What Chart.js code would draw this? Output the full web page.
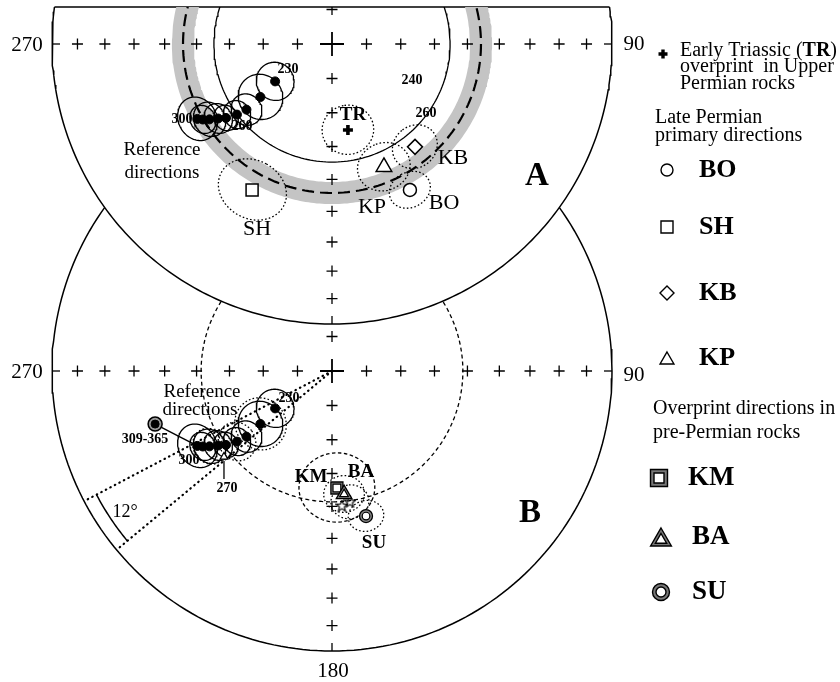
<!DOCTYPE html>
<html lang="en">
<head>
<meta charset="utf-8">
<title>Permian and Triassic paleomagnetic directions</title>
<script src="https://cdn.jsdelivr.net/npm/chart.js@4.4.1/dist/chart.umd.min.js"></script>
<style>
  html, body { margin: 0; padding: 0; background: #fff; }
  #box { position: relative; width: 840px; height: 682px; }
</style>
</head>
<body>
<div id="box"><canvas id="net" width="840" height="682"></canvas></div>
<script>
const RAD = Math.PI / 180;
const SERIF = '"Liberation Serif", "Times New Roman", serif';

// ---------- data (declination, inclination, alpha95 in degrees) ----------
// grid of the equal-area nets
const gridInc = [80, 70, 60, 50, 40, 30, 20, 10];
const gridDec = [0, 90, 180, 270];

// reference directions, 230 ... 300 Ma
const refLabels = ['230', '', '', '', '', '', '', '', '300'];
const refDec = [236.7, 233.5, 232.5, 233.4, 235.1, 236.8, 238.4, 239.7, 240.9];
const refInc = [70.2, 64.0, 58.4, 55.2, 51.9, 49.8, 47.4, 45.6, 44.2];
const refA95 = [5.5, 6.5, 4.5, 4.0, 3.6, 4.2, 4.8, 3.9, 6.0];
// additional confidence circles shown on net B
const refDotIdx = [1, 3, 6];
const refDotA95 = [7.5, 5.5, 5.0];
// 309-365 Ma and 270 Ma reference directions (net B)
const oldDec = [253.3];
const oldInc = [34.4];
const ref270Dec = [231.5];
const ref270Inc = [49.2];

// Early Triassic overprint in Upper Permian rocks
const trDec = [169.5];
const trInc = [64.5];
const trA95 = [7.3];

// Late Permian primary directions
const lpSites = ['BO', 'SH', 'KB', 'KP'];
const lpDec = [151.9, 208.7, 141.1, 157.1];
const lpInc = [40.6, 40.3, 51.0, 50.6];
const lpA95 = [5.6, 9.3, 6.4, 7.3];

// overprint directions in pre-Permian rocks
const opSites = ['KM', 'BA', 'SU'];
const opDec = [177.6, 174.4, 166.8];
const opInc = [55.6, 53.6, 45.8];
const opA95 = [10.5, 5.6, 4.8];
// mean overprint directions (stars)
const starDec = [175.8, 172.2];
const starInc = [50.0, 51.0];
const starA95 = [5.2];

// small circles of constant inclination
const bandIncA = 45.8;            // dashed centre line of the shaded band
const bandEdgeIncA = [42.3, 49.2]; // outer and inner edge of the band
const thinIncA = 55.3;
const ringIncB = 51.4;
// 12 degree declination sector
const wedgeDec = [242.3, 230.3];
const wedgeArcInc = 5.6;

// ---------- net frames (canvas units) ----------
const NET_A = { cx: 332, cy: 44, R: 280, top: 7 };
const NET_B = { cx: 332, cy: 371, R: 280 };

// equal-area (Schmidt) projection, north up
function radiusOf(net, inc) { return net.R * Math.SQRT2 * Math.sin((90 - Math.abs(inc)) * RAD / 2); }
function project(net, dec, inc) {
  const r = radiusOf(net, inc);
  return { x: net.cx + r * Math.sin(dec * RAD), y: net.cy - r * Math.cos(dec * RAD) };
}
function smallCircle(net, inc, d0 = 0, d1 = 360, step = 1.5) {
  const n = Math.max(2, Math.round(Math.abs(d1 - d0) / step));
  const out = [];
  for (let k = 0; k <= n; k++) out.push(project(net, d0 + (d1 - d0) * k / n, inc));
  return out;
}
// declination where a small circle meets the upper cut of net A
function cutDec(net, inc) { return Math.acos((net.cy - net.top) / radiusOf(net, inc)) / RAD; }
// shaded band between two small circles, below the cut line
function bandPolygon(net, incOuter, incInner) {
  const dO = cutDec(net, incOuter), dI = cutDec(net, incInner);
  return smallCircle(net, incOuter, 360 - dO, dO, 1).concat(smallCircle(net, incInner, dI, 360 - dI, 1));
}
// cone of confidence around a direction
function cone(net, dec, inc, a95, n = 90) {
  const d = dec * RAD, i = inc * RAD, a = a95 * RAD;
  const v = [Math.cos(i) * Math.cos(d), Math.cos(i) * Math.sin(d), Math.sin(i)];
  const u1 = [-Math.sin(i) * Math.cos(d), -Math.sin(i) * Math.sin(d), Math.cos(i)];
  const u2 = [-Math.sin(d), Math.cos(d), 0];
  const out = [];
  for (let k = 0; k <= n; k++) {
    const t = 2 * Math.PI * k / n;
    const p = [0, 1, 2].map(j => Math.cos(a) * v[j] + Math.sin(a) * (Math.cos(t) * u1[j] + Math.sin(t) * u2[j]));
    const pd = Math.atan2(p[1], p[0]) / RAD;
    const pi = Math.asin(Math.max(-1, Math.min(1, p[2]))) / RAD;
    out.push(project(net, pd, pi));
  }
  return out;
}
const gridPoints = net => gridDec.flatMap(d => gridInc.map(i => project(net, d, i)));
const edgePoints = net => gridDec.map(d => project(net, d, 0));
const edgeRotation = gridDec.map(d => ({ 0: 90, 90: 180, 180: 270, 270: 0 })[d]);

function starImage(size) {
  const c = document.createElement('canvas');
  c.width = c.height = size;
  const g = c.getContext('2d');
  g.strokeStyle = '#000'; g.lineWidth = 1.2; g.beginPath();
  for (let k = 0; k < 10; k++) {
    const rr = k % 2 ? size * 0.2 : size * 0.46;
    const a = -Math.PI / 2 + k * Math.PI / 5;
    const px = size / 2 + rr * Math.cos(a), py = size / 2 + rr * Math.sin(a);
    if (k) g.lineTo(px, py); else g.moveTo(px, py);
  }
  g.closePath(); g.stroke();
  return c;
}

// ---------- dataset builders ----------
const line = (data, o = {}) => Object.assign({ data, showLine: true, pointRadius: 0, borderColor: '#000',
  borderWidth: 1.3, fill: false, tension: 0, clip: false }, o);
const marks = (data, o = {}) => Object.assign({ data, showLine: false, pointStyle: 'circle', pointRadius: 4.5,
  pointBackgroundColor: '#000', pointBorderColor: '#000', pointBorderWidth: 1, clip: false }, o);
const DOTTED = [1.6, 2.2];
const CLIP_A = { left: 0, right: 0, bottom: 0, top: -NET_A.top };

const layers = [];   // painted bottom to top

// ----- net B -----
layers.push(line(smallCircle(NET_B, 0), { borderWidth: 1.5 }));
layers.push(line(smallCircle(NET_B, ringIncB), { borderDash: [4, 3], borderWidth: 1.3 }));
wedgeDec.forEach(d => layers.push(line([project(NET_B, d, 90), project(NET_B, d, 0)],
  { borderDash: [0.5, 4.6], borderWidth: 2.2, borderCapStyle: 'round' })));
layers.push(line(smallCircle(NET_B, wedgeArcInc, wedgeDec[1], wedgeDec[0], 0.5), { borderWidth: 1.5 }));
layers.push(marks(gridPoints(NET_B), { pointStyle: 'cross', pointRadius: 5.5, pointBorderWidth: 1.3 }));
layers.push(marks([project(NET_B, 0, 90)], { pointStyle: 'cross', pointRadius: 12, pointBorderWidth: 1.8 }));
layers.push(marks(edgePoints(NET_B), { pointStyle: 'dash', pointRadius: 8, pointRotation: edgeRotation, pointBorderWidth: 1.3 }));
refDec.forEach((d, k) => layers.push(line(cone(NET_B, d, refInc[k], refA95[k]))));
refDotIdx.forEach((k, j) => layers.push(line(cone(NET_B, refDec[k], refInc[k], refDotA95[j]), { borderDash: DOTTED })));
layers.push(line(cone(NET_B, opDec[0], opInc[0], opA95[0]), { borderDash: [3.5, 2.5] }));
layers.push(line(cone(NET_B, opDec[1], opInc[1], opA95[1]), { borderDash: DOTTED }));
layers.push(line(cone(NET_B, opDec[2], opInc[2], opA95[2]), { borderDash: DOTTED }));
layers.push(line(cone(NET_B, starDec[1], starInc[1], starA95[0]), { borderDash: DOTTED }));
layers.push(line([project(NET_B, oldDec[0], oldInc[0]), project(NET_B, refDec[8], refInc[8])], { borderWidth: 1.4 }));
layers.push(marks(refDec.map((d, k) => project(NET_B, d, refInc[k]))));
layers.push(marks([project(NET_B, oldDec[0], oldInc[0])], { pointRadius: 7, pointBackgroundColor: '#9a9a9a', pointBorderWidth: 1.5 }));
layers.push(marks([project(NET_B, oldDec[0], oldInc[0])], { pointRadius: 4 }));
layers.push(marks([project(NET_B, ref270Dec[0], ref270Inc[0])], { pointStyle: 'triangle', pointRadius: 4.5, pointBackgroundColor: '#fff', pointBorderWidth: 1.2 }));
layers.push(marks([project(NET_B, opDec[0], opInc[0])], { pointStyle: 'rect', pointRadius: 8.5, pointBackgroundColor: '#888', pointBorderWidth: 1.3 }));
layers.push(marks([project(NET_B, opDec[0], opInc[0])], { pointStyle: 'rect', pointRadius: 5.5, pointBackgroundColor: '#fff', pointBorderWidth: 1.2 }));
layers.push(marks(starDec.map((d, k) => project(NET_B, d, starInc[k])), { pointStyle: starImage(13), pointRadius: 6 }));
layers.push(marks([project(NET_B, opDec[1], opInc[1])], { pointStyle: 'triangle', pointRadius: 9, pointBackgroundColor: '#888', pointBorderWidth: 1.3 }));
layers.push(marks([project(NET_B, opDec[1], opInc[1])], { pointStyle: 'triangle', pointRadius: 5, pointBackgroundColor: '#fff', pointBorderWidth: 1.2 }));
layers.push(marks([project(NET_B, opDec[2], opInc[2])], { pointRadius: 6.5, pointBackgroundColor: '#888', pointBorderWidth: 1.3 }));
layers.push(marks([project(NET_B, opDec[2], opInc[2])], { pointRadius: 3.8, pointBackgroundColor: '#fff', pointBorderWidth: 1.2 }));

// ----- net A (drawn over net B) -----
const dTop = cutDec(NET_A, 0);
layers.push(line(smallCircle(NET_A, 0, 360 - dTop, dTop, 1),
  { borderWidth: 1.5, fill: { value: NET_A.top }, backgroundColor: '#fff' }));
layers.push(line([project(NET_A, 360 - dTop, 0), project(NET_A, dTop, 0)], { borderWidth: 1.5 }));
layers.push(line(bandPolygon(NET_A, bandEdgeIncA[0], bandEdgeIncA[1]),
  { borderWidth: 0, fill: 'shape', backgroundColor: '#c4c4c4' }));
layers.push(line(smallCircle(NET_A, bandIncA), { borderDash: [12, 6], borderWidth: 2.2, clip: CLIP_A }));
layers.push(line(smallCircle(NET_A, thinIncA), { clip: CLIP_A }));
layers.push(marks(gridPoints(NET_A), { pointStyle: 'cross', pointRadius: 5.5, pointBorderWidth: 1.3, clip: CLIP_A }));
layers.push(marks([project(NET_A, 0, 90)], { pointStyle: 'cross', pointRadius: 12, pointBorderWidth: 1.8, clip: CLIP_A }));
layers.push(marks(edgePoints(NET_A), { pointStyle: 'dash', pointRadius: 8, pointRotation: edgeRotation, pointBorderWidth: 1.3, clip: CLIP_A }));
refDec.forEach((d, k) => layers.push(line(cone(NET_A, d, refInc[k], refA95[k]), { clip: CLIP_A })));
layers.push(line(cone(NET_A, trDec[0], trInc[0], trA95[0]), { borderDash: DOTTED, clip: CLIP_A }));
lpDec.forEach((d, k) => layers.push(line(cone(NET_A, d, lpInc[k], lpA95[k]), { borderDash: DOTTED, clip: CLIP_A })));
layers.push(marks(refDec.map((d, k) => project(NET_A, d, refInc[k])), { clip: CLIP_A }));
layers.push(marks(lpDec.map((d, k) => project(NET_A, d, lpInc[k])), {
  pointStyle: ['circle', 'rect', 'rectRot', 'triangle'], pointRadius: [6.5, 8.5, 7.5, 9],
  pointBackgroundColor: '#fff', pointBorderWidth: 1.5, clip: CLIP_A }));
layers.push(marks([project(NET_A, trDec[0], trInc[0])], { pointStyle: 'cross', pointRadius: 5, pointBorderWidth: 3.6, clip: CLIP_A }));

layers.forEach((ds, i) => { ds.order = layers.length - i; });

// ---------- text ----------
const netText = [
  { t: '270', x: 27, y: 45, f: '21px' },
  { t: '90', x: 634, y: 44, f: '21px' },
  { t: '270', x: 27, y: 372, f: '21px' },
  { t: '90', x: 634, y: 375, f: '21px' },
  { t: '180', x: 333, y: 671, f: '21px' },
  { t: 'A', x: 537, y: 176, f: 'bold 33px' },
  { t: 'B', x: 530, y: 513, f: 'bold 33px' },
  { t: refLabels[0], x: 288, y: 69, f: 'bold 14px' },
  { t: refLabels[8], x: 182, y: 119, f: 'bold 14px' },
  { t: '260', x: 242, y: 126, f: 'bold 14px' },
  { t: '240', x: 412, y: 80, f: 'bold 14px' },
  { t: '260', x: 426, y: 113, f: 'bold 14px' },
  { t: 'TR', x: 353, y: 115, f: 'bold 19px' },
  { t: 'Reference', x: 162, y: 150, f: '19px' },
  { t: 'directions', x: 162, y: 173, f: '19px' },
  { t: lpSites[2], x: 453, y: 158, f: '22px' },
  { t: lpSites[3], x: 372, y: 207, f: '22px' },
  { t: lpSites[0], x: 444, y: 203, f: '22px' },
  { t: lpSites[1], x: 257, y: 229, f: '22px' },
  { t: 'Reference', x: 202, y: 392, f: '19px' },
  { t: 'directions', x: 200, y: 410, f: '19px' },
  { t: refLabels[0], x: 289, y: 398, f: 'bold 14px' },
  { t: '309-365', x: 145, y: 439, f: 'bold 14px' },
  { t: refLabels[8], x: 189, y: 460, f: 'bold 14px' },
  { t: '270', x: 227, y: 488, f: 'bold 14px' },
  { t: opSites[0], x: 311, y: 477, f: 'bold 19px' },
  { t: opSites[1], x: 361, y: 472, f: 'bold 19px' },
  { t: opSites[2], x: 374, y: 543, f: 'bold 19px' },
  { t: '12°', x: 125, y: 512, f: '18px' }
];
const legendText = [
  { parts: [['Early Triassic (', ''], ['TR', 'bold '], [')', '']], x: 680, y: 51, size: 20 },
  { parts: [['overprint  in Upper', '']], x: 680, y: 67, size: 20 },
  { parts: [['Permian rocks', '']], x: 680, y: 84, size: 20 },
  { parts: [['Late Permian', '']], x: 655, y: 118, size: 20 },
  { parts: [['primary directions', '']], x: 655, y: 136, size: 20 },
  { parts: [[lpSites[0], 'bold ']], x: 699, y: 170, size: 26 },
  { parts: [[lpSites[1], 'bold ']], x: 699, y: 227, size: 26 },
  { parts: [[lpSites[2], 'bold ']], x: 699, y: 293, size: 26 },
  { parts: [[lpSites[3], 'bold ']], x: 699, y: 358, size: 26 },
  { parts: [['Overprint directions in', '']], x: 653, y: 409, size: 20 },
  { parts: [['pre-Permian rocks', '']], x: 653, y: 433, size: 20 },
  { parts: [[opSites[0], 'bold ']], x: 688, y: 478, size: 27 },
  { parts: [[opSites[1], 'bold ']], x: 692, y: 537, size: 27 },
  { parts: [[opSites[2], 'bold ']], x: 692, y: 592, size: 27 }
];
const legendMarks = [
  { kind: 'plus', x: 663, y: 54 },
  { kind: 'circle', x: 667, y: 170 },
  { kind: 'square', x: 667, y: 227 },
  { kind: 'diamond', x: 667, y: 293 },
  { kind: 'triangle', x: 667, y: 359 },
  { kind: 'dsquare', x: 659, y: 478 },
  { kind: 'dtriangle', x: 661, y: 538 },
  { kind: 'dcircle', x: 661, y: 592 }
];

function shapePath(ctx, kind, x, y, s) {
  ctx.beginPath();
  if (kind === 'circle') ctx.arc(x, y, s, 0, 2 * Math.PI);
  else if (kind === 'square') ctx.rect(x - s, y - s, 2 * s, 2 * s);
  else if (kind === 'diamond') { ctx.moveTo(x, y - s); ctx.lineTo(x + s, y); ctx.lineTo(x, y + s); ctx.lineTo(x - s, y); ctx.closePath(); }
  else if (kind === 'triangle') {
    for (let k = 0; k < 3; k++) {
      const a = -Math.PI / 2 + k * 2 * Math.PI / 3;
      const px = x + s * Math.cos(a), py = y + s * Math.sin(a);
      if (k) ctx.lineTo(px, py); else ctx.moveTo(px, py);
    }
    ctx.closePath();
  }
}
function legendMark(ctx, m) {
  ctx.save();
  ctx.strokeStyle = '#000'; ctx.lineWidth = 1.4; ctx.fillStyle = '#fff';
  const { kind, x, y } = m;
  if (kind === 'plus') {
    ctx.lineWidth = 3.4; ctx.beginPath();
    ctx.moveTo(x - 4.5, y); ctx.lineTo(x + 4.5, y); ctx.moveTo(x, y - 4.5); ctx.lineTo(x, y + 4.5); ctx.stroke();
  } else if (kind === 'circle') { shapePath(ctx, 'circle', x, y, 6); ctx.stroke(); }
  else if (kind === 'square') { shapePath(ctx, 'square', x, y, 6); ctx.stroke(); }
  else if (kind === 'diamond') { shapePath(ctx, 'diamond', x, y, 7); ctx.stroke(); }
  else if (kind === 'triangle') { shapePath(ctx, 'triangle', x, y + 1, 8); ctx.stroke(); }
  else {
    const base = kind.slice(1), outer = { square: 8.5, triangle: 12, circle: 8.5 }[base], inner = { square: 5, triangle: 6.5, circle: 5 }[base];
    const dy = base === 'triangle' ? 2 : 0;
    ctx.fillStyle = '#777'; shapePath(ctx, base, x, y + dy, outer); ctx.fill(); ctx.stroke();
    ctx.fillStyle = '#fff'; shapePath(ctx, base, x, y + dy, inner); ctx.fill(); ctx.stroke();
  }
  ctx.restore();
}

const textPlugin = {
  id: 'netText',
  afterDatasetsDraw(chart) {
    const { ctx } = chart;
    const sx = chart.scales.x, sy = chart.scales.y;
    ctx.save();
    ctx.fillStyle = '#000';
    ctx.textBaseline = 'middle';
    ctx.textAlign = 'center';
    for (const t of netText) {
      ctx.font = `${t.f} ${SERIF}`;
      ctx.fillText(t.t, sx.getPixelForValue(t.x), sy.getPixelForValue(t.y));
    }
    // leader for the 270 Ma direction
    const p270 = project(NET_B, ref270Dec[0], ref270Inc[0]);
    ctx.strokeStyle = '#000'; ctx.lineWidth = 1.3;
    ctx.beginPath();
    ctx.moveTo(sx.getPixelForValue(p270.x), sy.getPixelForValue(p270.y + 4));
    ctx.lineTo(sx.getPixelForValue(p270.x), sy.getPixelForValue(p270.y + 22));
    ctx.stroke();
    // legend
    ctx.textAlign = 'left';
    for (const row of legendText) {
      let x = row.x;
      for (const [str, w] of row.parts) {
        ctx.font = `${w}${row.size}px ${SERIF}`;
        ctx.fillText(str, x, row.y);
        x += ctx.measureText(str).width;
      }
    }
    legendMarks.forEach(m => legendMark(ctx, m));
    ctx.restore();
  }
};

Chart.defaults.font.family = SERIF;
new Chart(document.getElementById('net'), {
  type: 'scatter',
  data: { datasets: layers },
  options: {
    responsive: false,
    devicePixelRatio: 1,
    animation: false,
    events: [],
    layout: { padding: 0, autoPadding: false },
    scales: {
      x: { type: 'linear', min: 0, max: 840, display: false },
      y: { type: 'linear', min: 0, max: 682, reverse: true, display: false }
    },
    plugins: { legend: { display: false }, tooltip: { enabled: false }, colors: { enabled: false } }
  },
  plugins: [textPlugin]
});
</script>
</body>
</html>
